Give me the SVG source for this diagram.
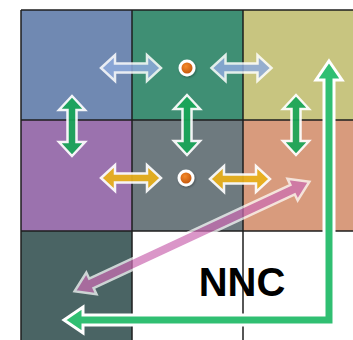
<svg xmlns="http://www.w3.org/2000/svg" width="353" height="340" viewBox="0 0 353 340">
  <defs>
    <style>
      .grid { stroke: #1e1e1e; stroke-width: 1.5; fill: none; }
      .harrow { stroke: #ffffff; stroke-width: 2.5; stroke-linejoin: miter; stroke-miterlimit: 4; }
      .blue { fill: #8eaadc; opacity: 0.85; }
      .yellow { fill: #eab11a; opacity: 0.92; }
      .vgreen { fill: #17a657; opacity: 0.92; }
      .dot-outer { fill: #ffffff; }
      .dot-inner { fill: url(#orange); }
      .nnc { font-family: "Liberation Sans", Arial, sans-serif; font-weight: bold; font-size: 40px; fill: #000000; text-anchor: middle; }
    </style>
    <radialGradient id="orange" cx="0.4" cy="0.35" r="0.7">
      <stop offset="0" stop-color="#f58a2a"/>
      <stop offset="1" stop-color="#c4560c"/>
    </radialGradient>
    <filter id="shadow" x="-50%" y="-50%" width="200%" height="200%">
      <feDropShadow dx="0.8" dy="1" stdDeviation="1" flood-color="#000" flood-opacity="0.35"/>
    </filter>
    <path id="dbl" d="M-30,0 L-16,-13 L-16,-4.5 L16,-4.5 L16,-13 L30,0 L16,13 L16,4.5 L-16,4.5 L-16,13 Z"/>
  </defs>

  <rect width="353" height="340" fill="#ffffff"/>

  <g id="cells">
    <rect id="cell-0-0" x="21" y="10" width="111" height="110" fill="#7089b2"/>
    <rect id="cell-1-0" x="132" y="10" width="111" height="110" fill="#3f8f74"/>
    <rect id="cell-2-0" x="243" y="10" width="110" height="110" fill="#c8c580"/>
    <rect id="cell-0-1" x="21" y="120" width="111" height="111" fill="#9b72ae"/>
    <rect id="cell-1-1" x="132" y="120" width="111" height="111" fill="#6e7a7f"/>
    <rect id="cell-2-1" x="243" y="120" width="110" height="111" fill="#d89b7d"/>
    <rect id="cell-0-2" x="21" y="231" width="111" height="109" fill="#4a6464"/>
  </g>

  <g id="grid" class="grid">
    <line x1="21" y1="10" x2="353" y2="10"/>
    <line x1="21" y1="120" x2="353" y2="120"/>
    <line x1="21" y1="231" x2="353" y2="231"/>
    <line x1="21" y1="10" x2="21" y2="340"/>
    <line x1="132" y1="10" x2="132" y2="340"/>
    <line x1="243" y1="10" x2="243" y2="340"/>
  </g>

  <g id="connectors">
    <use href="#dbl" class="harrow blue" transform="translate(131,68)"/>
    <use href="#dbl" class="harrow blue" transform="translate(241.5,68)"/>
    <use href="#dbl" class="harrow yellow" transform="translate(131,178)"/>
    <use href="#dbl" class="harrow yellow" transform="translate(240,179)"/>
    <use href="#dbl" class="harrow vgreen" transform="translate(72,126) rotate(90)"/>
    <use href="#dbl" class="harrow vgreen" transform="translate(187,125) rotate(90)"/>
    <use href="#dbl" class="harrow vgreen" transform="translate(296,125) rotate(90)"/>
    <path id="nnc-pink" d="M-129.5,0 L-111,-12 L-111,-5.2 L111,-5.2 L111,-12 L129.5,0 L111,12 L111,5.2 L-111,5.2 L-111,12 Z" transform="translate(192,236.5) rotate(-25)" fill="#cc6eb4" stroke="#ffffff" stroke-width="2.5" opacity="0.72"/>
    <path id="nnc-green" d="M329,61 L342,80 L334,80 L334,325 L83,325 L83,333 L64,320 L83,307 L83,315 L324,315 L324,80 L316,80 Z" fill="#30bf72" stroke="#ffffff" stroke-width="3" stroke-linejoin="miter"/>
  </g>

  <g id="dot-top" filter="url(#shadow)">
    <circle cx="187" cy="68" r="8.5" class="dot-outer"/>
    <circle cx="187" cy="68" r="5.5" class="dot-inner"/>
  </g>
  <g id="dot-bottom" filter="url(#shadow)">
    <circle cx="186" cy="178" r="8.5" class="dot-outer"/>
    <circle cx="186" cy="178" r="5.5" class="dot-inner"/>
  </g>

  <g id="label">
    <text x="242" y="296" class="nnc">NNC</text>
  </g>
</svg>
